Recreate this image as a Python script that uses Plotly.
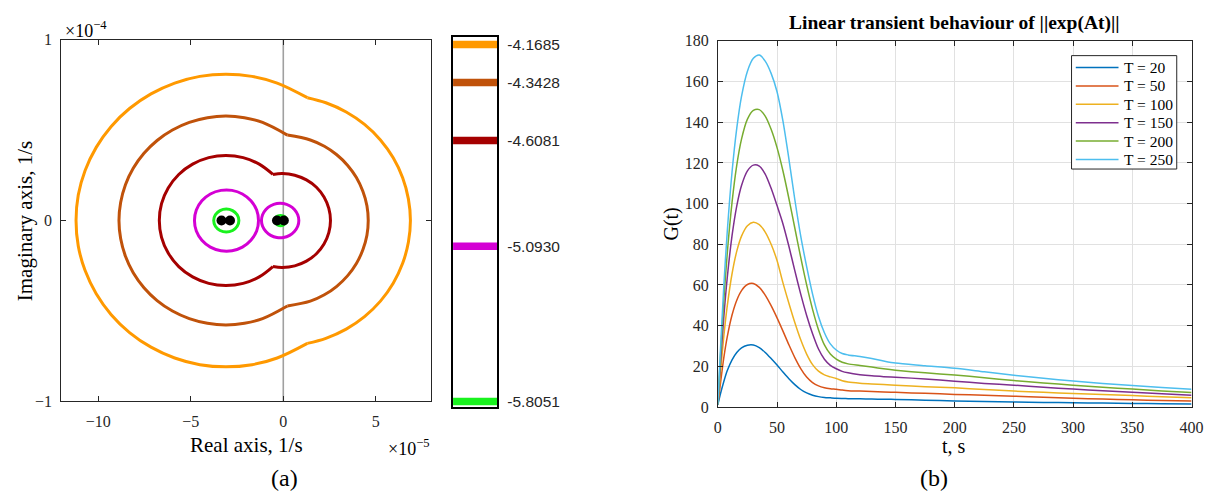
import plotly.graph_objects as go

# ---------------- (a) pseudospectrum level curves ----------------
# log10(epsilon) levels shown on the colour bar
levels = [-4.1685, -4.3428, -4.6081, -5.0930, -5.8051]
level_text = ["-4.1685", "-4.3428", "-4.6081", "-5.0930", "-5.8051"]
level_colors = ["#FF9900", "#C0520A", "#A50000", "#D400D4", "#19F21E"]

# Upper halves of the level curves (real / imaginary part in units of 1e-5 1/s).
# The outer three curves are split into a right lobe and a left lobe that meet at a notch.
orange_right_re = [6.87, 6.76, 6.45, 5.94, 5.25, 4.39, 3.40, 2.30, 1.30]
orange_right_im = [0.00, 1.20, 2.37, 3.47, 4.46, 5.32, 6.01, 6.52, 6.80]
orange_left_re = [1.30, -0.33, -1.69, -3.10, -4.51, -5.87, -7.15, -8.31, -9.30,
                  -10.11, -10.71, -11.08, -11.20]
orange_left_im = [6.80, 7.61, 7.98, 8.10, 7.98, 7.61, 7.01, 6.20, 5.21,
                  4.05, 2.77, 1.41, 0.00]

brown_right_re = [4.59, 4.52, 4.30, 3.95, 3.48, 2.89, 2.22, 1.46, 0.22]
brown_right_im = [0.00, 0.82, 1.62, 2.38, 3.05, 3.64, 4.11, 4.46, 4.73]
brown_left_re = [0.22, -1.12, -2.10, -3.10, -4.10, -5.08, -5.99, -6.82, -7.53,
                 -8.11, -8.53, -8.79, -8.88]
brown_left_im = [4.73, 5.43, 5.69, 5.78, 5.69, 5.43, 5.01, 4.43, 3.72,
                 2.89, 1.98, 1.00, 0.00]

darkred_right_re = [2.55, 2.46, 2.20, 1.79, 1.25, 0.62, -0.05, -0.56]
darkred_right_im = [0.00, 0.67, 1.30, 1.84, 2.25, 2.51, 2.60, 2.55]
darkred_left_re = [-0.56, -1.30, -2.17, -3.10, -4.03, -4.90, -5.65, -6.22, -6.58, -6.70]
darkred_left_im = [2.55, 3.12, 3.48, 3.60, 3.48, 3.12, 2.55, 1.80, 0.93, 0.00]

# closed curves around each eigenvalue pair
magenta_left_re = [-1.34, -1.44, -1.75, -2.21, -2.77, -3.37, -3.94, -4.40, -4.70, -4.80]
magenta_left_im = [0.00, 0.58, 1.09, 1.47, 1.67, 1.67, 1.47, 1.09, 0.58, 0.00]
magenta_right_re = [0.84, 0.78, 0.60, 0.34, 0.01, -0.35, -0.68, -0.94, -1.12, -1.18]
magenta_right_im = [0.00, 0.32, 0.61, 0.82, 0.94, 0.94, 0.82, 0.61, 0.32, 0.00]

green_left_re = [-2.40, -2.49, -2.74, -3.08, -3.42, -3.67, -3.76]
green_left_im = [0.00, 0.32, 0.55, 0.64, 0.55, 0.32, 0.00]
green_right_re = [0.17, 0.01, -0.31, -0.47]
green_right_im = [0.00, 0.24, 0.24, 0.00]

# eigenvalues (units of 1e-5 1/s)
eig_re = [-3.34, -2.88, -0.34, 0.03]
eig_im = [0.0, 0.0, 0.0, 0.0]

# ---------------- (b) transient growth ----------------
t_s = [0, 2, 5, 8, 12, 16, 20, 25, 30, 35, 40, 45, 50, 55, 60, 65, 70, 75, 80, 85,
       90, 95, 100, 105, 110, 120, 130, 140, 150, 175, 200, 225, 250, 275, 300, 325,
       350, 375, 400]
G_T20 = [1, 6.0, 12.4, 17.9, 23.2, 26.8, 29.1, 30.4, 30.5, 29.2, 26.8, 23.8, 20.6, 17.2,
         13.9, 11.0, 8.6, 6.9, 5.8, 5.1, 4.7, 4.5, 4.3, 4.2, 4.1, 4.0, 3.9, 3.8, 3.7,
         3.35, 3.0, 2.7, 2.45, 2.25, 2.05, 1.9, 1.75, 1.6, 1.5]
G_T50 = [1, 10.6, 24.0, 34.6, 45.2, 52.5, 57.2, 60.2, 60.7, 58.8, 55.0, 49.8, 43.8, 37.3,
         30.6, 24.3, 18.9, 14.7, 12.0, 10.4, 9.5, 9.0, 8.7, 8.3, 8.0, 7.8, 7.6, 7.4, 7.2,
         6.7, 6.2, 5.75, 5.3, 4.8, 4.3, 3.9, 3.5, 3.2, 2.9]
G_T100 = [1, 15.2, 34.4, 49.8, 65.5, 76.6, 84.0, 89.1, 90.8, 89.6, 86.0, 80.0, 72.0, 61.0,
          51.0, 41.5, 33.0, 26.0, 20.8, 17.6, 15.8, 14.8, 14.0, 12.9, 12.3, 11.7, 11.3,
          11.0, 10.7, 10.0, 9.4, 8.6, 7.8, 7.2, 6.6, 6.1, 5.6, 5.0, 4.5]
G_T150 = [1, 19.3, 43.8, 63.8, 84.2, 98.9, 108.9, 116.1, 118.9, 118.4, 114.5, 107.5, 99.0,
          90.0, 79.0, 67.0, 55.5, 45.0, 36.0, 28.5, 23.5, 20.5, 18.8, 17.5, 16.8, 15.9,
          15.3, 14.9, 14.6, 13.8, 12.7, 11.6, 10.7, 9.7, 8.8, 8.0, 7.2, 6.5, 5.8]
G_T200 = [1, 22.7, 51.9, 75.8, 100.6, 118.9, 131.7, 141.5, 145.8, 146.2, 143.0, 136.5,
          127.5, 116.0, 102.5, 88.0, 73.5, 60.0, 48.0, 38.0, 30.5, 26.0, 23.5, 22.0, 21.2,
          20.4, 19.6, 18.8, 18.1, 16.8, 15.7, 14.4, 13.0, 11.8, 10.7, 9.7, 8.8, 7.9, 7.1]
G_T250 = [1, 25.7, 59.0, 86.5, 115.5, 137.1, 152.7, 165.1, 171.4, 173.0, 170.0, 164.0,
          155.0, 140.5, 122.0, 102.0, 84.0, 69.0, 55.5, 44.5, 36.5, 31.0, 28.0, 26.3,
          25.6, 24.8, 23.8, 22.6, 21.6, 20.3, 19.0, 17.3, 15.6, 14.1, 12.8, 11.6, 10.6,
          9.6, 8.7]
series_names = ["T = 20", "T = 50", "T = 100", "T = 150", "T = 200", "T = 250"]
series_colors = ["#0072BD", "#D95319", "#EDB120", "#7E2F8E", "#77AC30", "#4DBEEE"]

W, H = 1222, 501
SERIF = "Liberation Serif, Times New Roman, serif"
SANS = "Liberation Sans, Arial, sans-serif"
AX = "#262626"


def closed(re_up, im_up):
    """Close an upper-half curve with its mirror image below the real axis."""
    xs = list(re_up) + list(re_up[::-1])[1:]
    ys = list(im_up) + [-v for v in im_up[::-1]][1:]
    return xs, ys


def right_lobe(re_up, im_up):
    """Lower notch -> right real-axis crossing -> upper notch."""
    xs = list(re_up[::-1]) + list(re_up[1:])
    ys = [-v for v in im_up[::-1]] + list(im_up[1:])
    return xs, ys


def left_lobe(re_up, im_up):
    """Upper notch -> left real-axis crossing -> lower notch."""
    xs = list(re_up) + list(re_up[::-1])[1:]
    ys = list(im_up) + [-v for v in im_up[::-1]][1:]
    return xs, ys


def px_x(p):
    return p / W


def px_y(p):
    return 1 - p / H


fig = go.Figure()

# imaginary axis marker
fig.add_trace(go.Scatter(x=[0, 0], y=[-10, 10], mode="lines",
                         line=dict(color="#a0a0a0", width=1.6),
                         xaxis="x", yaxis="y", showlegend=False, hoverinfo="skip"))

pieces = [
    (right_lobe(orange_right_re, orange_right_im), 0),
    (left_lobe(orange_left_re, orange_left_im), 0),
    (right_lobe(brown_right_re, brown_right_im), 1),
    (left_lobe(brown_left_re, brown_left_im), 1),
    (right_lobe(darkred_right_re, darkred_right_im), 2),
    (left_lobe(darkred_left_re, darkred_left_im), 2),
    (closed(magenta_left_re, magenta_left_im), 3),
    (closed(magenta_right_re, magenta_right_im), 3),
    (closed(green_left_re, green_left_im), 4),
    (closed(green_right_re, green_right_im), 4),
]
for (xs, ys), k in pieces:
    fig.add_trace(go.Scatter(x=xs, y=ys, mode="lines",
                             line=dict(color=level_colors[k], width=3,
                                       shape="spline", smoothing=1.0),
                             xaxis="x", yaxis="y", showlegend=False))

fig.add_trace(go.Scatter(x=eig_re, y=eig_im, mode="markers",
                         marker=dict(color="black", size=10),
                         xaxis="x", yaxis="y", showlegend=False))

# colour bar bands
for lv, col in zip(levels, level_colors):
    fig.add_trace(go.Scatter(x=[0, 1], y=[lv, lv], mode="lines",
                             line=dict(color=col, width=7.5),
                             xaxis="x2", yaxis="y2", showlegend=False, hoverinfo="skip"))

# transient growth curves
for ys, name, col in zip([G_T20, G_T50, G_T100, G_T150, G_T200, G_T250],
                         series_names, series_colors):
    fig.add_trace(go.Scatter(x=t_s, y=ys, mode="lines", name=name, showlegend=False,
                             line=dict(color=col, width=1.5, shape="spline", smoothing=0.8),
                             xaxis="x3", yaxis="y3"))

tick_font = dict(family=SERIF, size=16, color=AX)
common = dict(showline=True, linecolor=AX, linewidth=1, mirror="ticks", ticks="inside",
              ticklen=5, tickcolor=AX, zeroline=False, tickfont=tick_font)

fig.update_layout(
    width=W, height=H,
    margin=dict(l=0, r=0, t=0, b=0),
    paper_bgcolor="white", plot_bgcolor="white",
    xaxis=dict(domain=[px_x(58), px_x(433)], range=[-12, 8],
               tickvals=[-10, -5, 0, 5], ticktext=["\u221210", "\u22125", "0", "5"],
               showgrid=False, anchor="y", ticklabelstandoff=6, **common),
    yaxis=dict(domain=[px_y(407), px_y(33)], range=[-10, 10],
               tickvals=[-10, 0, 10], ticktext=["\u22121", "0", "1"],
               showgrid=False, anchor="x", ticklabelstandoff=5, **common),
    xaxis2=dict(domain=[px_x(455), px_x(500)], range=[0, 1], anchor="y2",
                showline=True, mirror=True, linecolor="black", linewidth=1.5,
                showticklabels=False, ticks="", showgrid=False, zeroline=False),
    yaxis2=dict(domain=[px_y(412.7), px_y(30)], range=[-5.829, -4.134], anchor="x2",
                side="right", tickvals=levels, ticktext=level_text,
                tickfont=dict(family=SANS, size=15.5, color=AX),
                showline=True, mirror=True, linecolor="black", linewidth=1.5,
                ticks="", showgrid=False, zeroline=False, ticklabelstandoff=5),
    xaxis3=dict(domain=[px_x(723.3), px_x(1203.3)], range=[0, 400],
                tickvals=list(range(0, 401, 50)), showgrid=True, gridcolor="#e1e1e1",
                anchor="y3", ticklabelstandoff=6, **common),
    yaxis3=dict(domain=[px_y(413), px_y(34)], range=[0, 180],
                tickvals=list(range(0, 181, 20)), showgrid=True, gridcolor="#e1e1e1",
                anchor="x3", ticklabelstandoff=5, **common),
    showlegend=False,
)

# legend box for panel (b)
fig.add_shape(type="rect", xref="paper", yref="paper",
              x0=px_x(1081.7), x1=px_x(1188.3), y0=px_y(166.7), y1=px_y(49.3),
              line=dict(color=AX, width=1), fillcolor="white", layer="above")
for i, (name, col) in enumerate(zip(series_names, series_colors)):
    ypos = 61.7 + 19.0 * i
    fig.add_shape(type="line", xref="paper", yref="paper",
                  x0=px_x(1086), x1=px_x(1129.3), y0=px_y(ypos), y1=px_y(ypos),
                  line=dict(color=col, width=1.5), layer="above")
    fig.add_annotation(text=name, x=px_x(1133), y=px_y(ypos), xref="paper", yref="paper",
                       xanchor="left", yanchor="middle", showarrow=False,
                       font=dict(family=SERIF, size=15.5, color="black"))

ann = [
    dict(text="Real axis, 1/s", x=px_x(245.5), y=px_y(452), size=21),
    dict(text="Imaginary axis, 1/s", x=px_x(21), y=px_y(221), size=21, angle=-90),
    dict(text="\u00d710<sup>\u22125</sup>", x=px_x(410), y=px_y(455), size=18),
    dict(text="\u00d710<sup>\u22124</sup>", x=px_x(83), y=px_y(22), size=18),
    dict(text="(a)", x=px_x(284), y=px_y(487), size=24),
    dict(text="<b>Linear transient behaviour of ||exp(At)||</b>", x=px_x(963),
         y=px_y(16), size=19.5),
    dict(text="t, s", x=px_x(963), y=px_y(453), size=20),
    dict(text="G(t)", x=px_x(676), y=px_y(224), size=20, angle=-90),
    dict(text="(b)", x=px_x(942), y=px_y(487), size=24),
]
for a in ann:
    fig.add_annotation(text=a["text"], x=a["x"], y=a["y"], xref="paper", yref="paper",
                       xanchor="center", yanchor="middle", showarrow=False,
                       textangle=a.get("angle", 0),
                       font=dict(family=SERIF, size=a["size"], color="black"))

fig.write_html("out.html")
